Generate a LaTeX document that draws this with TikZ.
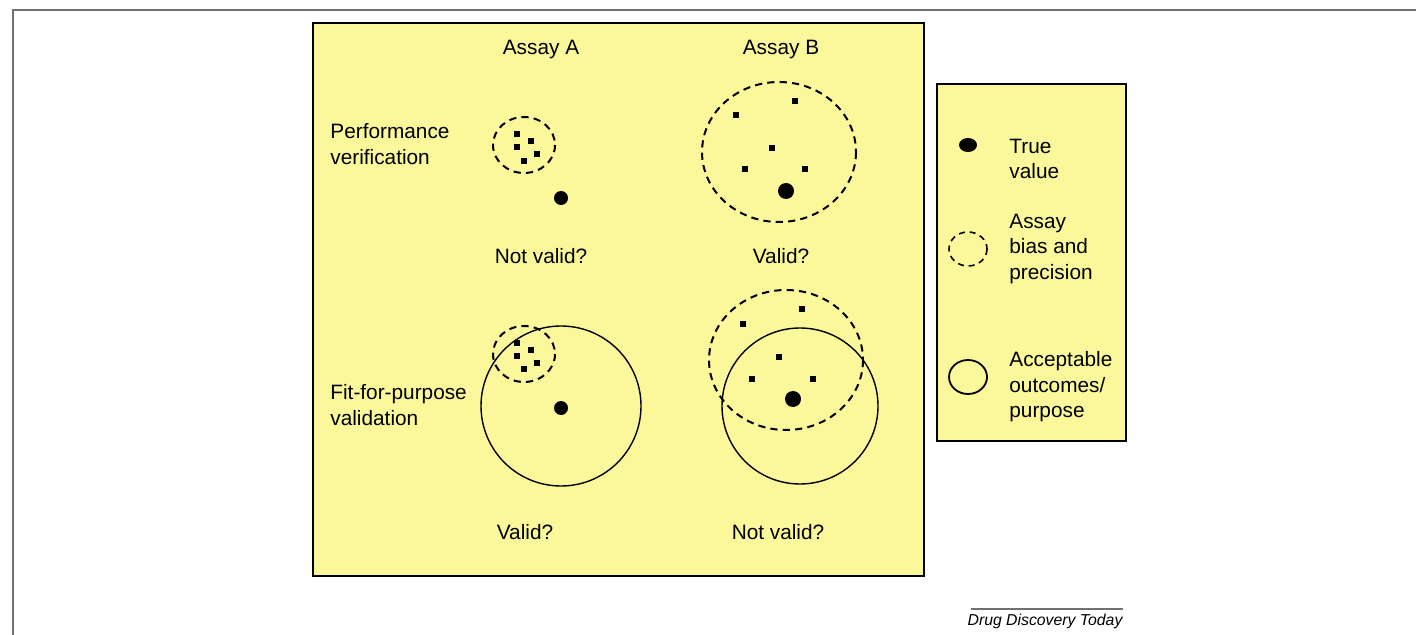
\documentclass[tikz,border=0pt]{standalone}
\usepackage{fontspec}
\setmainfont{Liberation Sans}
\definecolor{paper}{HTML}{FBF89C}
\definecolor{framegray}{HTML}{707070}
\tikzset{
  panel/.style={fill=paper,draw=black,line width=0.6pt},
  lbl/.style={font=\fontsize{10.4}{12.8}\selectfont,inner sep=0pt},
  lbll/.style={lbl,anchor=west,align=left},
  spread/.style={draw=black,line width=1pt,dash pattern=on 3.6pt off 2.6pt},
  accept/.style={draw=black,line width=0.7pt},
  sq/.style={fill=black},
  truedot/.style={fill=black}
}
\newcommand{\pt}[2]{\fill[sq] (#1-3.3,#2-3.3) rectangle (#1+3.3,#2+3.3);}
\begin{document}
\begin{tikzpicture}[x=0.5pt,y=-0.5pt]
\useasboundingbox (0,0) rectangle (1416,635);
% outer frame
\draw[framegray,line width=0.8pt] (13,640) -- (13,10) -- (1420,10);
% panels
\draw[panel] (313,23) rectangle (924,576);
\draw[panel] (937,84) rectangle (1126,441);
% headings
\node[lbl] (ha) at (541,50) {Assay A};
\node[lbl] (hb) at (781,50) {Assay B};
\node[lbll] (pv) at (330,144) {Performance\\verification};
\node[lbll] (ffp) at (330,405) {Fit-for-purpose\\validation};
\node[lbl] (r1a) at (541,256) {Not valid?};
\node[lbl] (r1b) at (781,256) {Valid?};
\node[lbl] (r2a) at (525,532) {Valid?};
\node[lbl] (r2b) at (778,532) {Not valid?};
% top A
\draw[spread] (524,145) ellipse [x radius=31,y radius=28];
\pt{517}{134}\pt{531}{141}\pt{517}{147}\pt{537}{154}\pt{524}{161}
\fill[truedot] (561,198) circle (7);
% top B
\draw[spread] (779,152) ellipse [x radius=77,y radius=70];
\pt{795}{101}\pt{736}{115}\pt{772}{148}\pt{745}{169}\pt{805}{169}
\fill[truedot] (786,191) circle (8);
% bottom A
\draw[accept] (561,406) circle (80);
\draw[spread] (524,354) ellipse [x radius=31,y radius=28];
\pt{517}{343}\pt{531}{350}\pt{517}{356}\pt{537}{363}\pt{524}{369}
\fill[truedot] (561,408) circle (7);
% bottom B
\draw[accept] (800,406) circle (78);
\draw[spread] (786,360) ellipse [x radius=77,y radius=70];
\pt{802}{309}\pt{743}{324}\pt{779}{357}\pt{752}{379}\pt{813}{379}
\fill[truedot] (793,399) circle (8);
% legend
\fill[truedot] (968,145) ellipse [x radius=9,y radius=7];
\node[lbll] (lt) at (1009,159) {True\\value};
\draw[spread,line width=0.8pt,dash pattern=on 3pt off 2.4pt] (968,249) ellipse [x radius=19,y radius=17];
\node[lbll] (lb) at (1009,249) {Assay\\bias and\\precision};
\draw[accept,line width=0.9pt] (968,377) ellipse [x radius=19,y radius=17];
\node[lbll] (la) at (1009,387) {Acceptable\\outcomes/\\purpose};
% footer
\draw[framegray,line width=0.6pt] (971,609) -- (1123,609);
\node[font=\fontsize{7.9}{10}\itshape,inner sep=0pt] (src) at (1045,621) {Drug Discovery Today};
\end{tikzpicture}
\end{document}
